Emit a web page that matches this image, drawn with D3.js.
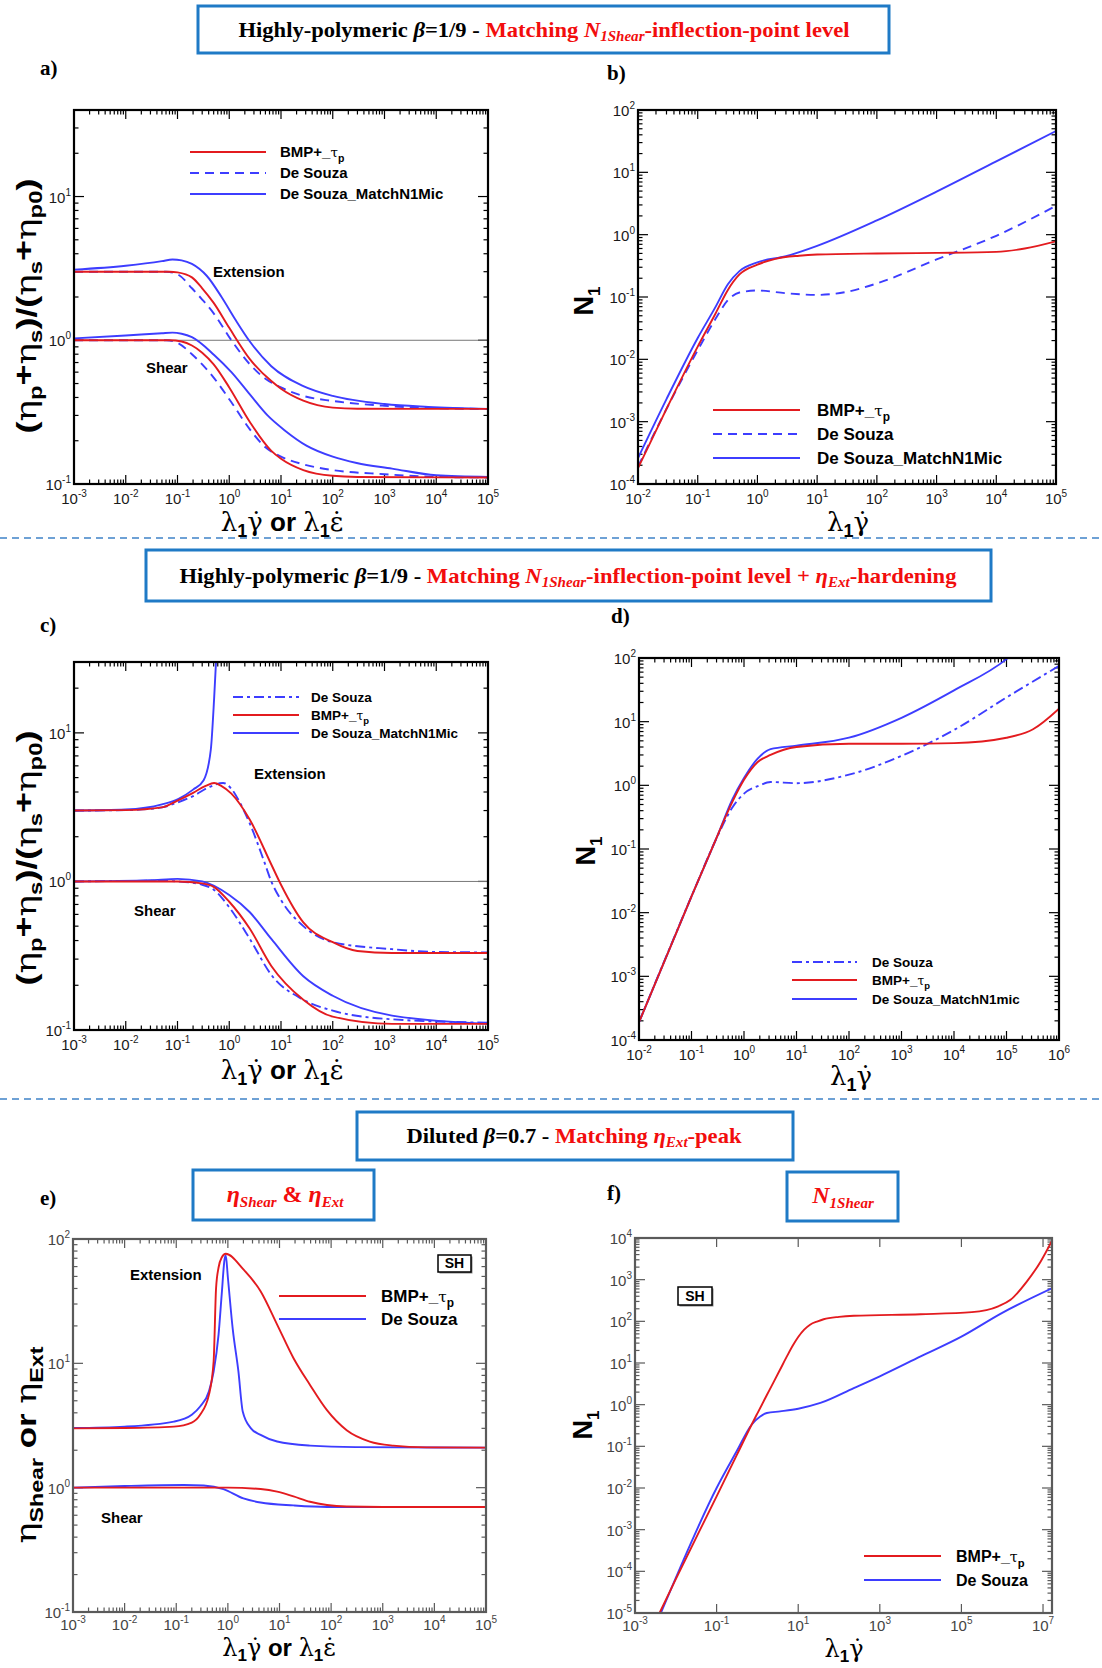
<!DOCTYPE html>
<html lang="en">
<head>
<meta charset="UTF-8" />
<title>BMP+_tau_p vs De Souza - material functions</title>
<script src="https://cdn.jsdelivr.net/npm/d3@7"></script>
<style>
  body { margin: 0; background: #fff; }
  svg { display: block; }
</style>
</head>
<body>
<svg id="fig" width="1102" height="1668"></svg>
<script>
// ---- data: [rate, value] ----
// a) beta = 1/9, normalised viscosities
const aExtBmp   = [[1e-3,3.0],[0.01,3.0],[0.07,3.0],[0.1,2.97],[0.19,2.74],[0.3,2.3],[0.5,1.82],[1,1.22],[2.5,0.74],[6.5,0.52],[10,0.46],[27,0.38],[100,0.34],[300,0.334],[1e5,0.333]];
const aExtDs    = [[1e-3,3.0],[0.01,3.0],[0.06,3.0],[0.1,2.88],[0.19,2.3],[0.3,1.92],[0.5,1.54],[1.1,1.0],[2.5,0.68],[5,0.54],[10,0.47],[27,0.41],[100,0.378],[1e3,0.35],[1e4,0.337],[1e5,0.333]];
const aExtMatch = [[1e-3,3.1],[0.01,3.3],[0.05,3.55],[0.08,3.65],[0.12,3.6],[0.19,3.4],[0.37,2.8],[0.71,2.0],[1.3,1.4],[2.5,0.98],[6.5,0.66],[27,0.48],[100,0.41],[1e3,0.36],[7e3,0.344],[1e5,0.333]];
const aShBmp    = [[1e-3,1.0],[0.07,1.0],[0.12,0.98],[0.19,0.92],[0.3,0.82],[0.5,0.68],[1,0.47],[2.5,0.27],[6.5,0.17],[10,0.15],[27,0.125],[100,0.114],[300,0.112],[1e5,0.111]];
const aShDs     = [[1e-3,1.0],[0.06,1.0],[0.1,0.96],[0.19,0.8],[0.3,0.68],[0.5,0.55],[1.1,0.37],[2.5,0.24],[5,0.18],[10,0.155],[27,0.137],[100,0.125],[1e3,0.117],[1e4,0.112],[1e5,0.111]];
const aShMatch  = [[1e-3,1.03],[0.01,1.08],[0.05,1.12],[0.08,1.13],[0.12,1.11],[0.19,1.05],[0.51,0.79],[1.1,0.6],[2.5,0.42],[5.5,0.3],[12,0.235],[31,0.185],[100,0.155],[290,0.14],[1.4e3,0.128],[1e4,0.115],[1e5,0.112]];

// b) beta = 1/9, N1
const bBmp   = [[0.01,1.8e-4],[0.03,1.6e-3],[0.1,1.6e-2],[0.2,5.5e-2],[0.32,0.13],[0.5,0.23],[1,0.33],[2,0.41],[5,0.46],[10,0.48],[100,0.5],[1e3,0.51],[1e4,0.53],[3e4,0.6],[1e5,0.78]];
const bDs    = [[0.01,1.9e-4],[0.03,1.6e-3],[0.1,1.4e-2],[0.2,4.5e-2],[0.32,0.089],[0.5,0.118],[1,0.127],[3,0.115],[10,0.108],[30,0.12],[100,0.165],[1e3,0.4],[1e4,0.96],[1e5,2.9]];
const bMatch = [[0.01,2.6e-4],[0.03,2.3e-3],[0.1,2.2e-2],[0.2,7e-2],[0.32,0.16],[0.5,0.26],[1,0.36],[3,0.45],[10,0.66],[100,1.69],[1e3,4.9],[1e4,15],[1e5,46]];

// c) beta = 1/9 + extensional hardening
const cExtDs    = [[1e-3,3.0],[0.01,3.02],[0.05,3.15],[0.1,3.4],[0.2,3.75],[0.4,4.3],[0.76,4.6],[1.1,4.2],[1.6,3.4],[2.5,2.45],[4.7,1.37],[6.5,1.0],[10,0.75],[27,0.5],[100,0.39],[1.4e3,0.35],[1e4,0.335],[1e5,0.333]];
const cExtBmp   = [[1e-3,3.0],[0.01,3.02],[0.05,3.15],[0.1,3.5],[0.2,3.95],[0.35,4.4],[0.51,4.6],[0.7,4.4],[1.1,3.9],[2.5,2.6],[6.5,1.3],[10,0.95],[27,0.53],[100,0.39],[300,0.34],[1.4e3,0.33],[1e5,0.33]];
const cExtMatch = [[1e-3,3.0],[0.01,3.05],[0.05,3.3],[0.105,3.6],[0.2,4.15],[0.32,4.8],[0.44,7.7],[0.51,17],[0.56,32]];
const cShDs     = [[1e-3,1.0],[0.05,1.01],[0.1,1.0],[0.3,0.95],[0.5,0.88],[1,0.67],[2.5,0.41],[6.5,0.235],[27,0.16],[100,0.135],[1.4e3,0.118],[1e5,0.112]];
const cShBmp    = [[1e-3,1.0],[0.1,1.0],[0.3,0.97],[0.5,0.92],[1,0.73],[2.5,0.48],[6.5,0.27],[27,0.16],[100,0.123],[1.4e3,0.11],[1e5,0.11]];
const cShMatch  = [[1e-3,1.0],[0.03,1.02],[0.1,1.04],[0.3,1.0],[1,0.81],[2.5,0.62],[6.5,0.41],[27,0.23],[100,0.17],[1.4e3,0.125],[1e5,0.11]];

// d) beta = 1/9 + extensional hardening, N1
const dDs    = [[0.01,1.9e-4],[0.1,1.8e-2],[0.32,0.165],[0.6,0.45],[1,0.74],[2,1.0],[3.2,1.13],[10,1.08],[100,1.47],[1e3,2.9],[1e4,7.4],[1e5,24],[1e6,75]];
const dBmp   = [[0.01,1.9e-4],[0.1,1.8e-2],[0.32,0.17],[0.6,0.55],[1,1.22],[1.8,2.3],[3.2,3.0],[10,4.0],[100,4.5],[1e3,4.5],[1e4,4.6],[1e5,5.6],[3.2e5,7.6],[1e6,16]];
const dMatch = [[0.01,1.9e-4],[0.1,1.8e-2],[0.32,0.17],[0.6,0.6],[1,1.3],[1.8,2.6],[3.2,3.7],[10,4.2],[100,5.6],[1e3,11.5],[1e4,31],[1e5,96],[1.3e5,115]];

// e) beta = 0.7, viscosities
const eExtBmp = [[1e-3,3.0],[0.01,3.02],[0.09,3.1],[0.2,3.34],[0.29,3.86],[0.43,5.6],[0.53,10.4],[0.59,40],[0.66,59],[0.76,71],[0.91,76],[2.0,57],[4.3,38],[9,20.5],[18.7,11],[39,6.7],[83,4.2],[200,2.9],[560,2.35],[1600,2.18],[7000,2.11],[1e5,2.1]];
const eExtDs  = [[1e-3,3.02],[0.01,3.1],[0.09,3.4],[0.2,3.86],[0.29,4.5],[0.43,5.95],[0.53,8.6],[0.66,17],[0.76,36],[0.86,68],[0.91,74],[1.0,49],[1.24,19],[1.6,8.6],[1.94,4.1],[2.8,3.0],[4.3,2.66],[9,2.35],[39,2.18],[300,2.12],[1e5,2.1]];
const eShBmp  = [[1e-3,1.0],[1,1.0],[4.3,0.975],[9,0.93],[18.7,0.85],[39,0.77],[83,0.725],[200,0.705],[1e3,0.7],[1e5,0.7]];
const eShDs   = [[1e-3,1.0],[0.01,1.03],[0.14,1.05],[0.34,1.04],[0.82,0.975],[2,0.82],[4.3,0.76],[18.7,0.72],[83,0.7],[1e5,0.7]];

// f) beta = 0.7, N1
const fBmp = [[4e-3,1e-5],[0.01,6.5e-5],[0.1,6.3e-3],[0.32,0.065],[0.72,0.33],[1,0.62],[2,2.3],[3.5,6.6],[5.2,14],[7.5,27],[10,42],[14,63],[19.5,83],[30,100],[42,112],[100,128],[230,136],[1e4,148],[1.8e5,166],[8e5,230],[1.6e6,330],[4e6,900],[8.7e6,2700],[1.7e7,9000]];
const fDs  = [[4.3e-3,1e-5],[0.01,7e-5],[0.1,1e-2],[0.31,0.076],[0.72,0.33],[1.17,0.52],[1.7,0.63],[3.6,0.69],[10,0.8],[35,1.1],[230,2.5],[1e3,4.8],[1e4,14.4],[1e5,43],[1e6,160],[1.7e7,630]];

const RED = "#e31b1f", BLUE = "#3d3dff", BOXBLUE = "#1f7ac6", TXTRED = "#f20d0d";
const SANS = "'Liberation Sans', Arial, sans-serif";
const SERIF = "'Liberation Serif', 'Times New Roman', serif";
const GREEK = "'DejaVu Serif', serif";

const svg = d3.select("#fig");
svg.append("rect").attr("width", 1102).attr("height", 1668).attr("fill", "#fff");

// text with sub/superscripts; parts: string or {t, shift, size, weight, style, family, fill}
function rich(sel, x, y, parts, o = {}) {
  const t = sel.append("text").attr("x", x).attr("y", y)
    .attr("font-family", o.family || SANS)
    .attr("font-size", o.size || 14)
    .attr("font-weight", o.weight || "bold")
    .attr("fill", o.fill || "#000")
    .attr("text-anchor", o.anchor || "start");
  let shift = 0;
  parts.forEach(p => {
    if (typeof p === "string") p = {t: p};
    const s = p.shift || 0;
    const ts = t.append("tspan").text(p.t).attr("dy", s - shift);
    shift = s;
    if (p.size) ts.attr("font-size", p.size);
    if (p.weight) ts.attr("font-weight", p.weight);
    if (p.style) ts.attr("font-style", p.style);
    if (p.family) ts.attr("font-family", p.family);
    if (p.fill) ts.attr("fill", p.fill);
  });
  if (o.len) t.attr("textLength", o.len).attr("lengthAdjust", "spacingAndGlyphs");
  return t;
}

function titleBox(x0, y0, x1, y1) {
  svg.append("rect").attr("x", x0).attr("y", y0).attr("width", x1 - x0).attr("height", y1 - y0)
    .attr("fill", "#fff").attr("stroke", BOXBLUE).attr("stroke-width", 3);
}

function separator(y) {
  svg.append("line").attr("x1", 0).attr("x2", 1102).attr("y1", y).attr("y2", y)
    .attr("stroke", "#3f82c8").attr("stroke-width", 1.5).attr("stroke-dasharray", "7,5");
}

const tauLabel = s => [ "BMP+_", {t: "τ", weight: "normal", family: GREEK, size: s * 0.9}, {t: "p", shift: s * 0.3, size: s * 0.7} ];

function panel(p) {
  const [x0, y0, x1, y1] = p.box;
  const g = svg.append("g");
  const x = d3.scaleLog().domain(p.xd).range([x0, x1]);
  const y = d3.scaleLog().domain(p.yd).range([y1, y0]);
  const fc = p.frame || "#000";
  const id = "clip-" + p.id;
  svg.append("clipPath").attr("id", id).append("rect")
    .attr("x", x0).attr("y", y0).attr("width", x1 - x0).attr("height", y1 - y0);

  // ticks, inward on all four sides
  const minors = (dom, on) => {
    if (!on) return [];
    const out = [];
    const lo = Math.floor(Math.log10(dom[0])), hi = Math.ceil(Math.log10(dom[1]));
    for (let e = lo; e <= hi; e++)
      for (let k = 2; k <= 9; k++) {
        const v = k * Math.pow(10, e);
        if (v > dom[0] && v < dom[1]) out.push(v);
      }
    return out;
  };
  const tk = g.append("g").attr("stroke", fc).attr("stroke-width", 1.2);
  const xt = p.xMaj.map(e => [Math.pow(10, e), 9]).concat(minors(p.xd, p.xMinor).map(v => [v, 4.5]));
  xt.forEach(([v, L]) => {
    const px = x(v);
    tk.append("line").attr("x1", px).attr("x2", px).attr("y1", y1).attr("y2", y1 - L);
    tk.append("line").attr("x1", px).attr("x2", px).attr("y1", y0).attr("y2", y0 + L);
  });
  const yt = p.yMaj.map(e => [Math.pow(10, e), 10]).concat(minors(p.yd, p.yMinor).map(v => [v, 4.5]));
  yt.forEach(([v, L]) => {
    const py = y(v);
    tk.append("line").attr("y1", py).attr("y2", py).attr("x1", x0).attr("x2", x0 + L);
    tk.append("line").attr("y1", py).attr("y2", py).attr("x1", x1).attr("x2", x1 - L);
  });

  // tick labels
  const lc = p.labelColor || "#1a1a1a";
  const lgap = p.labelGap || 20;
  p.xMaj.forEach(e => rich(g, x(Math.pow(10, e)), y1 + lgap,
    ["10", {t: String(e), shift: -7, size: 10}],
    {anchor: "middle", size: 15, weight: "normal", fill: lc}));
  p.yMaj.forEach(e => rich(g, x0 - 3, y(Math.pow(10, e)) + 6,
    ["10", {t: String(e), shift: -7, size: 10}],
    {anchor: "end", size: 15, weight: "normal", fill: lc}));

  if (p.unity) g.append("line").attr("x1", x0).attr("x2", x1).attr("y1", y(1)).attr("y2", y(1))
    .attr("stroke", "#777").attr("stroke-width", 1);

  // curves
  const line = d3.line().x(d => x(d[0])).y(d => y(d[1])).curve(d3.curveMonotoneX);
  const cg = g.append("g").attr("clip-path", `url(#${id})`);
  p.series.forEach(s => {
    cg.append("path").datum(s.data).attr("d", line).attr("fill", "none")
      .attr("stroke", s.color).attr("stroke-width", 1.9)
      .attr("stroke-dasharray", s.dash || null);
  });

  // frame
  g.append("rect").attr("x", x0).attr("y", y0).attr("width", x1 - x0).attr("height", y1 - y0)
    .attr("fill", "none").attr("stroke", fc).attr("stroke-width", 2.2);

  // legend
  const L = p.legend;
  L.items.forEach((it, i) => {
    const ly = L.ys[i];
    g.append("line").attr("x1", L.x1).attr("x2", L.x2).attr("y1", ly).attr("y2", ly)
      .attr("stroke", it.color).attr("stroke-width", 1.9).attr("stroke-dasharray", it.dash || null);
    rich(g, L.tx, ly + L.size * 0.36, it.label, {size: L.size});
  });

  // annotations
  (p.notes || []).forEach(n => rich(g, n.x, n.y, [n.t], {size: n.size || 15}));
  (p.sh || []).forEach(b => {
    g.append("rect").attr("x", b[0] + 1.5).attr("y", b[1] + 1.5).attr("width", b[2]).attr("height", b[3])
      .attr("fill", "#888");
    g.append("rect").attr("x", b[0]).attr("y", b[1]).attr("width", b[2]).attr("height", b[3])
      .attr("fill", "#fff").attr("stroke", "#000").attr("stroke-width", 1.5);
    rich(g, b[0] + b[2] / 2, b[1] + b[3] - 4, ["SH"], {anchor: "middle", size: 14});
  });

  // axis titles
  const yl = g.append("g").attr("transform", `translate(${p.ylab[0]},${p.ylab[1]}) rotate(-90)`);
  rich(yl, 0, 9, p.ylab[2], {anchor: "middle", size: p.ylab[3] || 27, len: p.ylab[4]});
  rich(g, p.xlab[0], p.xlab[1], p.xlab[2], {anchor: "middle", size: p.xlab[3] || 26});

  // panel letter
  rich(svg, p.letter[0], p.letter[1], [p.id + ")"], {family: SERIF, size: 21});
}

const sub1 = {t: "1", shift: 6, size: 18};
const sub1s = {t: "1", shift: 5, size: 17};
const rateBoth = s => [
  {t: "λ", family: GREEK, weight: "normal"}, s,
  {t: "γ\u0307", family: GREEK, weight: "normal", shift: 0}, " or ",
  {t: "λ", family: GREEK, weight: "normal"}, s,
  {t: "ε\u0307", family: GREEK, weight: "normal", shift: 0}
];
const rateShear = s => [
  {t: "λ", family: GREEK, weight: "normal"}, s,
  {t: "γ\u0307", family: GREEK, weight: "normal", shift: 0}
];
const yVisc = [
  "(", {t: "η", family: GREEK, weight: "normal"}, {t: "p", shift: 6, size: 18}, {t: "+", shift: -3},
  {t: "η", family: GREEK, weight: "normal", shift: 0}, {t: "s", shift: 6, size: 18}, {t: ")/(", shift: 0},
  {t: "η", family: GREEK, weight: "normal"}, {t: "s", shift: 6, size: 18}, {t: "+", shift: -3},
  {t: "η", family: GREEK, weight: "normal", shift: 0}, {t: "p0", shift: 6, size: 18}, {t: ")", shift: 0}
];
const yN1 = ["N", {t: "1", shift: 7, size: 17}];
const yEta = [
  {t: "η", family: GREEK, weight: "normal"}, {t: "Shear", shift: 7, size: 18}, {t: " or ", shift: 0},
  {t: "η", family: GREEK, weight: "normal"}, {t: "Ext", shift: 7, size: 18}
];

// ---- headings ----
titleBox(198, 6, 889, 53);
rich(svg, 544, 37, [
  "Highly-polymeric ", {t: "β", style: "italic"}, "=1/9 - ",
  {t: "Matching ", fill: TXTRED}, {t: "N", style: "italic", fill: TXTRED},
  {t: "1Shear", style: "italic", fill: TXTRED, size: 14, shift: 4},
  {t: "-inflection-point level", fill: TXTRED, shift: 0}
], {family: SERIF, size: 21, anchor: "middle", len: 611});

separator(538);

titleBox(146, 550, 991, 601);
rich(svg, 568, 583, [
  "Highly-polymeric ", {t: "β", style: "italic"}, "=1/9 - ",
  {t: "Matching ", fill: TXTRED}, {t: "N", style: "italic", fill: TXTRED},
  {t: "1Shear", style: "italic", fill: TXTRED, size: 14, shift: 4},
  {t: "-inflection-point level + ", fill: TXTRED, shift: 0},
  {t: "η", style: "italic", fill: TXTRED}, {t: "Ext", style: "italic", fill: TXTRED, size: 14, shift: 4},
  {t: "-hardening", fill: TXTRED, shift: 0}
], {family: SERIF, size: 21, anchor: "middle", len: 777});

separator(1099);

titleBox(357, 1112, 793, 1160);
rich(svg, 574, 1143, [
  "Diluted ", {t: "β", style: "italic"}, "=0.7 - ",
  {t: "Matching ", fill: TXTRED}, {t: "η", style: "italic", fill: TXTRED},
  {t: "Ext", style: "italic", fill: TXTRED, size: 14, shift: 4},
  {t: "-peak", fill: TXTRED, shift: 0}
], {family: SERIF, size: 21, anchor: "middle", len: 335});

titleBox(193, 1170, 374, 1220);
rich(svg, 285, 1202, [
  {t: "η", style: "italic"}, {t: "Shear", style: "italic", size: 15, shift: 5},
  {t: " & ", shift: 0}, {t: "η", style: "italic"}, {t: "Ext", style: "italic", size: 15, shift: 5}
], {family: SERIF, size: 24, anchor: "middle", fill: TXTRED});

titleBox(787, 1172, 898, 1221);
rich(svg, 843, 1203, [
  {t: "N", style: "italic"}, {t: "1Shear", style: "italic", size: 15, shift: 5}
], {family: SERIF, size: 24, anchor: "middle", fill: TXTRED});

// ---- panels ----
panel({
  id: "a", box: [74, 110, 488, 484], xd: [1e-3, 1e5], yd: [0.1, 40],
  xMaj: d3.range(-3, 6), yMaj: [-1, 0, 1], xMinor: true, yMinor: true, unity: true,
  series: [
    {data: aExtDs, color: BLUE, dash: "9,6"}, {data: aShDs, color: BLUE, dash: "9,6"},
    {data: aExtMatch, color: BLUE}, {data: aShMatch, color: BLUE},
    {data: aExtBmp, color: RED}, {data: aShBmp, color: RED}
  ],
  legend: {x1: 190, x2: 266, tx: 280, ys: [152, 173, 194], size: 15, items: [
    {label: tauLabel(15), color: RED}, {label: ["De Souza"], color: BLUE, dash: "9,6"},
    {label: ["De Souza_MatchN1Mic"], color: BLUE}]},
  notes: [{x: 213, y: 277, t: "Extension"}, {x: 146, y: 373, t: "Shear"}],
  ylab: [27, 306, yVisc, 27, 255], xlab: [282, 531, rateBoth(sub1)], letter: [40, 75]
});

panel({
  id: "b", box: [638, 110, 1056, 484], xd: [1e-2, 1e5], yd: [1e-4, 1e2],
  xMaj: d3.range(-2, 6), yMaj: d3.range(-4, 3), xMinor: true, yMinor: true,
  series: [
    {data: bDs, color: BLUE, dash: "9,6"}, {data: bMatch, color: BLUE}, {data: bBmp, color: RED}
  ],
  legend: {x1: 713, x2: 800, tx: 817, ys: [410, 434, 458], size: 17, items: [
    {label: tauLabel(17), color: RED}, {label: ["De Souza"], color: BLUE, dash: "9,6"},
    {label: ["De Souza_MatchN1Mic"], color: BLUE}]},
  ylab: [584, 301, yN1, 27], xlab: [848, 531, rateShear(sub1)], letter: [607, 80]
});

panel({
  id: "c", box: [74, 662, 488, 1030], xd: [1e-3, 1e5], yd: [0.1, 30],
  xMaj: d3.range(-3, 6), yMaj: [-1, 0, 1], xMinor: true, yMinor: true, unity: true,
  series: [
    {data: cExtDs, color: BLUE, dash: "10,4,3,4"}, {data: cShDs, color: BLUE, dash: "10,4,3,4"},
    {data: cExtMatch, color: BLUE}, {data: cShMatch, color: BLUE},
    {data: cExtBmp, color: RED}, {data: cShBmp, color: RED}
  ],
  legend: {x1: 233, x2: 299, tx: 311, ys: [697, 715, 733], size: 13.5, items: [
    {label: ["De Souza"], color: BLUE, dash: "10,4,3,4"}, {label: tauLabel(13.5), color: RED},
    {label: ["De Souza_MatchN1Mic"], color: BLUE}]},
  notes: [{x: 254, y: 779, t: "Extension"}, {x: 134, y: 916, t: "Shear"}],
  ylab: [27, 858, yVisc, 27, 255], xlab: [282, 1079, rateBoth(sub1)], letter: [40, 632]
});

panel({
  id: "d", box: [639, 658, 1059, 1040], xd: [1e-2, 1e6], yd: [1e-4, 1e2],
  xMaj: d3.range(-2, 7), yMaj: d3.range(-4, 3), xMinor: true, yMinor: true,
  series: [
    {data: dDs, color: BLUE, dash: "10,4,3,4"}, {data: dMatch, color: BLUE}, {data: dBmp, color: RED}
  ],
  legend: {x1: 792, x2: 857, tx: 872, ys: [962, 980, 999], size: 13.5, items: [
    {label: ["De Souza"], color: BLUE, dash: "10,4,3,4"}, {label: tauLabel(13.5), color: RED},
    {label: ["De Souza_MatchN1mic"], color: BLUE}]},
  ylab: [586, 851, yN1, 27], xlab: [851, 1085, rateShear(sub1)], letter: [611, 623]
});

panel({
  id: "e", box: [73, 1239, 486, 1612], xd: [1e-3, 1e5], yd: [0.1, 100],
  xMaj: d3.range(-3, 6), yMaj: [-1, 0, 1, 2], xMinor: true, yMinor: true,
  frame: "#5a5a5a", labelColor: "#444", labelGap: 18,
  series: [
    {data: eExtDs, color: BLUE}, {data: eShDs, color: BLUE},
    {data: eExtBmp, color: RED}, {data: eShBmp, color: RED}
  ],
  legend: {x1: 279, x2: 366, tx: 381, ys: [1296, 1319], size: 17, items: [
    {label: tauLabel(17), color: RED}, {label: ["De Souza"], color: BLUE}]},
  notes: [{x: 130, y: 1280, t: "Extension"}, {x: 101, y: 1523, t: "Shear"}],
  sh: [[438, 1255, 33, 17]],
  ylab: [27, 1445, yEta, 27, 197], xlab: [279, 1656, rateBoth(sub1s), 24], letter: [40, 1205]
});

panel({
  id: "f", box: [635, 1238, 1052, 1613], xd: [1e-3, Math.pow(10, 7.22)], yd: [1e-5, 1e4],
  xMaj: [-3, -1, 1, 3, 5, 7], yMaj: d3.range(-5, 5), xMinor: false, yMinor: true,
  frame: "#5a5a5a", labelColor: "#444", labelGap: 18,
  series: [{data: fDs, color: BLUE}, {data: fBmp, color: RED}],
  legend: {x1: 864, x2: 941, tx: 956, ys: [1556, 1580], size: 16, items: [
    {label: tauLabel(16), color: RED}, {label: ["De Souza"], color: BLUE}]},
  sh: [[678, 1287, 34, 18]],
  ylab: [583, 1425, yN1, 27], xlab: [844, 1657, rateShear(sub1s), 24], letter: [607, 1200]
});
</script>
</body>
</html>
